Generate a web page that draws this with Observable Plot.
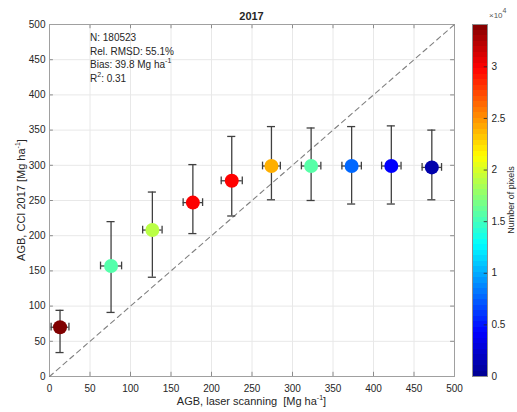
<!DOCTYPE html>
<html><head><meta charset="utf-8">
<script src="https://cdn.jsdelivr.net/npm/d3@7"></script>
<script src="https://cdn.jsdelivr.net/npm/@observablehq/plot@0.6"></script>
<style>
body{margin:0;background:#fff;}
#wrap{position:relative;width:517px;height:412px;font-family:Helvetica,"Liberation Sans",Arial,sans-serif;color:#262626;overflow:hidden;}
#wrap svg{position:absolute;top:0;}
.t{position:absolute;white-space:nowrap;font-size:11px;line-height:1;}
.t sup{font-size:7px;vertical-align:5px;line-height:0;}
</style></head><body><div id="wrap"></div>
<script>
// ---- data ----
const lidarAGB   = [13, 76, 127, 177, 225, 274, 323, 373, 422, 472];
const cciAGB     = [70, 157, 208, 247, 278, 299, 299, 299, 299, 297];
const cciLow     = [34, 91, 141, 203, 228, 251, 250, 245, 245, 251];
const cciHigh    = [94, 220, 262, 301, 341, 355, 353, 355, 356, 350];
const lidarErr   = [11, 13, 12, 12, 13, 11, 12, 12, 12, 12];
const pixelCount = [34100, 15600, 19000, 29900, 29800, 24000, 15700, 7700, 4200, 1100];
const axisTicks  = [0, 50, 100, 150, 200, 250, 300, 350, 400, 450, 500];
const cbarTicks  = [0, 5000, 10000, 15000, 20000, 25000, 30000];
const cbarMax    = 34100;
const jetStops   = [0, 0.125, 0.375, 0.625, 0.875, 1];
const jetColors  = ["#00008f", "#0000ff", "#00ffff", "#ffff00", "#ff0000", "#800000"];
const stats = ["N: 180523", "Rel. RMSD: 55.1%", "Bias: 39.8 Mg ha<sup>-1</sup>", "R<sup>2</sup>: 0.31"];

const rows = lidarAGB.map((x, i) => ({x, y: cciAGB[i], lo: cciLow[i], hi: cciHigh[i], xe: lidarErr[i], n: pixelCount[i]}));
const colorScale = {type: "linear", domain: jetStops.map(f => f * cbarMax), range: jetColors, interpolate: "rgb"};
const font = 'Helvetica, "Liberation Sans", Arial, sans-serif';
const capX = 5, capY = 5.5, inTick = 6;
const oneToOne = [0, 500];
const barColor = "#404040";

const wrap = document.getElementById("wrap");

const main = Plot.plot({
  width: 517, height: 412,
  marginLeft: 49, marginRight: 63, marginTop: 24, marginBottom: 36,
  x: {domain: [0, 500]},
  y: {domain: [0, 500]},
  color: colorScale,
  style: {fontSize: "10px", fontFamily: font, color: "#262626", background: "transparent"},
  marks: [
    Plot.gridX(axisTicks, {stroke: "#e8e8e8", strokeOpacity: 1}),
    Plot.gridY(axisTicks, {stroke: "#e8e8e8", strokeOpacity: 1}),
    Plot.ruleX(axisTicks, {y1: 0, y2: inTick, stroke: "#8c8c8c"}),
    Plot.ruleX(axisTicks, {y1: 500 - inTick, y2: 500, stroke: "#8c8c8c"}),
    Plot.ruleY(axisTicks, {x1: 0, x2: inTick * 0.8, stroke: "#8c8c8c"}),
    Plot.ruleY(axisTicks, {x1: 500 - inTick * 0.8, x2: 500, stroke: "#8c8c8c"}),
    Plot.frame({stroke: "#a0a0a0"}),
    Plot.axisX(axisTicks, {tickSize: 0, tickPadding: 8, label: null, fill: "#262626"}),
    Plot.axisY(axisTicks, {tickSize: 0, tickPadding: 4, label: null, fill: "#262626"}),
    Plot.line(oneToOne, {x: d => d, y: d => d, stroke: "#808080", strokeWidth: 1.1, strokeDasharray: "5,4"}),
    // vertical error bars
    Plot.ruleX(rows, {x: "x", y1: "lo", y2: "hi", stroke: barColor, strokeWidth: 1.3}),
    Plot.ruleY(rows, {y: "lo", x1: d => d.x - capX, x2: d => d.x + capX, stroke: barColor, strokeWidth: 1.3}),
    Plot.ruleY(rows, {y: "hi", x1: d => d.x - capX, x2: d => d.x + capX, stroke: barColor, strokeWidth: 1.3}),
    // horizontal error bars
    Plot.ruleY(rows, {y: "y", x1: d => d.x - d.xe, x2: d => d.x + d.xe, stroke: barColor, strokeWidth: 1.3}),
    Plot.ruleX(rows, {x: d => d.x - d.xe, y1: d => d.y - capY, y2: d => d.y + capY, stroke: barColor, strokeWidth: 1.3}),
    Plot.ruleX(rows, {x: d => d.x + d.xe, y1: d => d.y - capY, y2: d => d.y + capY, stroke: barColor, strokeWidth: 1.3}),
    Plot.dot(rows, {x: "x", y: "y", r: 7, fill: "n", stroke: null})
  ]
});
main.style.left = "0px";
wrap.appendChild(main);

const bins = d3.range(64).map(i => ({y1: i * cbarMax / 64, y2: (i + 1) * cbarMax / 64, v: (i + 0.5) * cbarMax / 64}));
const cbar = Plot.plot({
  width: 57, height: 412,
  marginLeft: 12, marginRight: 30, marginTop: 24, marginBottom: 36,
  x: {domain: [0, 1], axis: null},
  y: {domain: [0, cbarMax]},
  color: colorScale,
  style: {fontSize: "10px", fontFamily: font, color: "#262626", background: "transparent"},
  marks: [
    Plot.rect(bins, {x1: 0, x2: 1, y1: "y1", y2: "y2", fill: "v", shapeRendering: "crispEdges"}),
    Plot.ruleY(cbarTicks, {x1: 0.78, x2: 1, stroke: "#262626", strokeWidth: 0.8}),
    Plot.frame({stroke: "#8c8c8c"}),
    Plot.axisY(cbarTicks, {anchor: "right", tickSize: 0, tickPadding: 4, tickFormat: d => d / 1e4, label: null, fill: "#262626"})
  ]
});
cbar.style.left = "460px";
wrap.appendChild(cbar);

function label(html, style) {
  const d = document.createElement("div");
  d.className = "t";
  d.innerHTML = html;
  Object.assign(d.style, style);
  wrap.appendChild(d);
  return d;
}
label("2017", {left: "251.5px", top: "11px", transform: "translateX(-50%)", fontWeight: "bold"});
label("AGB, laser scanning&nbsp; [Mg ha<sup>-1</sup>]", {left: "251.5px", top: "396px", transform: "translateX(-50%)"});
label("AGB, CCI 2017 [Mg ha<sup>-1</sup>]", {left: "21px", top: "200px", transform: "translate(-50%,-50%) rotate(-90deg)"});
stats.forEach((s, i) => label(s, {left: "90px", top: (33 + i * 13.7) + "px", fontSize: "10px"}));
label("×10<sup>4</sup>", {left: "489px", top: "11px", fontSize: "8px", color: "#555"});
label("Number of pixels", {left: "511px", top: "200px", fontSize: "9px", transform: "translate(-50%,-50%) rotate(-90deg)"});
</script>
</body></html>
